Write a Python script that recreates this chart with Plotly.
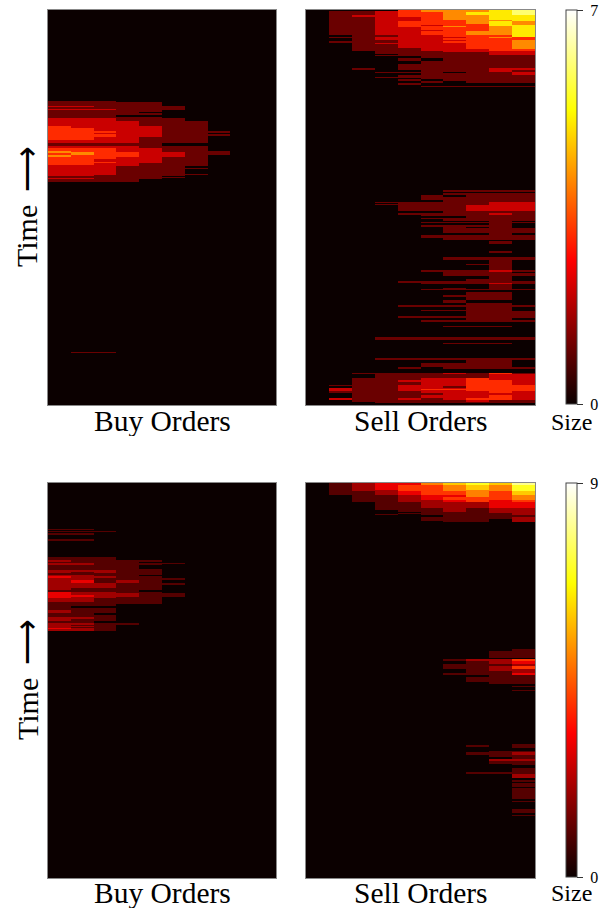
import plotly.graph_objects as go

levels = list(range(1, 11))
top_max = 7
bottom_max = 9
x_labels = ["Buy Orders", "Sell Orders"]

buy_top_edges = [0, 91, 92, 96, 97, 99, 100, 102, 103, 105, 107, 108, 111, 116, 118, 121, 123, 124, 126, 127, 130, 133, 136, 138, 141, 142, 143, 145, 147, 148, 149, 152, 153, 155, 156, 158, 159, 164, 165, 166, 167, 168, 169, 172, 342, 343, 395]
buy_top_z = [
 [0,0,0,0,0,0,0,0,0,0],
 [1,1,1,0,0,0,0,0,0,0],
 [1,1,1,1,1,0,0,0,0,0],
 [2,2,1,1,1,1,0,0,0,0],
 [1,1,1,1,1,1,0,0,0,0],
 [2,2,2,1,1,1,0,0,0,0],
 [1,1,1,1,1,0,0,0,0,0],
 [1,1,1,1,0,0,0,0,0,0],
 [1,1,1,1,1,0,0,0,0,0],
 [1,1,1,0,0,0,0,0,0,0],
 [1,1,1,1,1,0,0,0,0,0],
 [2,2,2,1,1,1,0,0,0,0],
 [2,2,2,2,1,1,1,0,0,0],
 [3,2,2,2,2,1,1,0,0,0],
 [3,3,2,2,2,1,1,0,0,0],
 [3,3,3,2,2,1,1,1,0,0],
 [3,3,2,2,2,1,1,0,0,0],
 [3,3,3,2,2,1,1,1,0,0],
 [3,3,3,2,2,1,1,0,0,0],
 [3,3,2,2,1,1,1,0,0,0],
 [2,2,2,2,1,1,1,0,0,0],
 [1,1,1,1,1,0,0,0,0,0],
 [2,2,2,2,1,1,1,0,0,0],
 [3,3,3,2,2,1,1,0,0,0],
 [4,3,3,2,2,1,1,1,0,0],
 [4,4,3,3,2,2,1,1,0,0],
 [3,4,3,3,2,2,1,1,0,0],
 [4,3,3,3,2,2,1,0,0,0],
 [3,3,3,2,2,1,1,0,0,0],
 [3,3,3,2,2,1,1,0,0,0],
 [3,3,2,2,2,1,1,0,0,0],
 [3,3,3,2,2,1,1,0,0,0],
 [3,3,2,2,1,1,1,0,0,0],
 [2,2,2,2,1,1,1,0,0,0],
 [2,2,2,1,1,1,0,0,0,0],
 [2,2,2,1,1,1,1,0,0,0],
 [2,2,2,1,1,1,0,0,0,0],
 [2,2,2,1,1,1,1,0,0,0],
 [2,2,1,1,1,1,0,0,0,0],
 [1,1,1,1,1,0,0,0,0,0],
 [1,1,1,1,1,1,0,0,0,0],
 [2,2,1,1,1,0,0,0,0,0],
 [1,1,1,1,0,0,0,0,0,0],
 [0,0,0,0,0,0,0,0,0,0],
 [0,1,1,0,0,0,0,0,0,0],
 [0,0,0,0,0,0,0,0,0,0],
]

# each row: time at which the band ends, then the size at the ten price levels
sell_top_rows = [
 (1,  [0,0,0,0,3,4,4,4,5,6]),
 (2,  [0,1,1,2,3,4,4,4,5,6]),
 (5,  [0,1,1,2,3,3,4,5,5,6]),
 (7,  [0,1,2,2,3,3,4,4,5,5]),
 (10, [0,1,1,2,2,3,4,4,5,5]),
 (11, [0,1,1,2,2,3,3,4,4,5]),
 (14, [0,1,1,2,3,3,3,4,5,4]),
 (15, [0,1,1,2,3,3,3,3,5,4]),
 (16, [0,1,1,2,3,2,3,3,5,5]),
 (17, [0,1,1,2,3,3,4,3,4,5]),
 (20, [0,1,1,2,2,3,3,3,4,5]),
 (21, [0,1,1,2,2,2,3,3,4,5]),
 (25, [0,1,1,2,2,3,3,4,4,5]),
 (27, [0,0,1,1,2,2,3,3,3,5]),
 (28, [0,1,1,2,2,2,2,3,4,3]),
 (30, [0,0,1,2,2,2,3,3,3,3]),
 (31, [0,0,1,1,2,2,2,3,3,4]),
 (33, [0,1,1,1,2,2,3,3,3,4]),
 (34, [0,0,1,2,2,2,2,3,3,4]),
 (38, [0,0,1,1,2,2,2,3,3,4]),
 (39, [0,0,1,1,1,2,2,3,3,4]),
 (41, [0,0,1,1,1,2,2,2,3,3]),
 (42, [0,0,0,1,1,1,2,2,2,2]),
 (44, [0,0,0,1,1,1,1,1,2,2]),
 (45, [0,0,0,0,1,1,1,1,2,2]),
 (46, [0,0,0,1,1,1,1,1,1,1]),
 (48, [0,0,0,0,0,1,1,1,1,1]),
 (51, [0,0,0,0,1,0,1,1,1,1]),
 (54, [0,0,0,0,0,1,1,1,1,1]),
 (58, [0,0,0,0,1,1,1,1,1,1]),
 (60, [0,0,1,0,1,1,1,1,2,2]),
 (62, [0,0,0,0,0,1,1,1,2,1]),
 (63, [0,0,0,1,1,1,0,1,1,2]),
 (65, [0,0,0,0,0,1,1,1,1,2]),
 (67, [0,0,0,0,1,1,1,1,1,1]),
 (68, [0,0,0,1,1,1,1,1,1,1]),
 (69, [0,0,0,0,0,1,1,1,1,1]),
 (71, [0,0,0,0,1,0,1,1,1,1]),
 (73, [0,0,0,0,0,1,0,1,1,1]),
 (75, [0,0,0,0,1,0,0,0,0,0]),
 (76, [0,0,0,0,0,0,0,0,0,0]),
 (77, [0,0,0,0,0,1,1,1,1,1]),
 (180,[0,0,0,0,0,0,0,0,0,0]),
 (182,[0,0,0,0,0,0,1,1,1,1]),
 (183,[0,0,0,0,0,0,0,0,0,0]),
 (185,[0,0,0,0,0,0,1,1,1,1]),
 (187,[0,0,0,0,0,1,0,1,1,1]),
 (190,[0,0,0,0,0,1,1,1,1,1]),
 (192,[0,0,0,0,0,0,1,1,1,1]),
 (193,[0,0,0,1,1,1,1,1,2,2]),
 (194,[0,0,0,0,1,1,1,1,2,2]),
 (195,[0,0,0,1,1,1,1,1,2,2]),
 (201,[0,0,0,0,1,1,1,2,2,2]),
 (203,[0,0,0,0,0,0,1,1,1,1]),
 (205,[0,0,0,0,1,1,1,1,2,1]),
 (206,[0,0,0,0,0,1,1,1,1,1]),
 (208,[0,0,0,0,0,0,0,1,1,1]),
 (209,[0,0,0,0,0,1,1,1,1,1]),
 (211,[0,0,0,0,0,0,1,1,1,1]),
 (212,[0,0,0,0,0,0,0,0,1,0]),
 (213,[0,0,0,0,0,1,1,1,1,1]),
 (215,[0,0,0,0,0,0,0,0,1,0]),
 (217,[0,0,0,0,0,1,1,1,1,0]),
 (218,[0,0,0,0,0,0,1,0,1,0]),
 (223,[0,0,0,0,0,0,1,1,1,1]),
 (225,[0,0,0,0,0,0,0,0,1,0]),
 (228,[0,0,0,0,0,1,1,1,1,1]),
 (230,[0,0,0,0,0,0,1,1,1,1]),
 (231,[0,0,0,0,0,0,0,0,0,0]),
 (234,[0,0,0,0,0,0,0,0,1,0]),
 (241,[0,0,0,0,0,0,0,0,0,0]),
 (243,[0,0,0,0,0,0,0,0,1,0]),
 (247,[0,0,0,0,0,0,0,0,0,0]),
 (250,[0,0,0,0,0,0,1,1,1,1]),
 (254,[0,0,0,0,0,0,0,0,1,0]),
 (255,[0,0,0,0,0,0,0,1,1,0]),
 (260,[0,0,0,0,0,0,0,0,1,0]),
 (262,[0,0,0,0,0,1,1,1,2,1]),
 (263,[0,0,0,0,0,0,1,1,1,0]),
 (266,[0,0,0,0,0,0,1,1,1,1]),
 (269,[0,0,0,0,0,0,0,0,1,0]),
 (271,[0,0,0,0,0,0,0,1,1,0]),
 (273,[0,0,0,0,1,1,1,1,1,1]),
 (274,[0,0,0,0,0,1,1,1,2,1]),
 (278,[0,0,0,0,0,0,0,0,1,0]),
 (279,[0,0,0,0,0,0,1,0,1,0]),
 (280,[0,0,0,0,0,1,1,1,1,1]),
 (282,[0,0,0,0,0,0,0,0,0,0]),
 (285,[0,0,0,0,0,0,0,1,1,0]),
 (287,[0,0,0,0,0,0,1,1,1,0]),
 (290,[0,0,0,0,0,0,0,1,1,0]),
 (293,[0,0,0,0,0,0,1,0,0,0]),
 (295,[0,0,0,0,0,0,0,1,1,0]),
 (297,[0,0,0,0,1,1,1,1,1,1]),
 (300,[0,0,0,0,0,0,0,1,1,0]),
 (301,[0,0,0,0,0,1,1,1,1,0]),
 (306,[0,0,0,0,0,0,0,1,1,1]),
 (308,[0,0,0,0,1,1,1,1,1,1]),
 (310,[0,0,0,0,0,0,0,1,1,0]),
 (312,[0,0,0,0,0,1,1,1,1,1]),
 (316,[0,0,0,0,0,0,0,0,0,0]),
 (317,[0,0,0,0,0,0,1,1,1,0]),
 (327,[0,0,0,0,0,0,0,0,0,0]),
 (330,[0,0,0,1,1,1,1,1,1,1]),
 (333,[0,0,0,0,0,0,0,0,0,0]),
 (334,[0,0,0,0,0,0,1,1,1,0]),
 (348,[0,0,0,0,0,0,0,0,0,0]),
 (350,[0,0,0,1,1,1,1,1,1,1]),
 (353,[0,0,0,0,0,0,0,1,1,0]),
 (355,[0,0,0,0,0,1,1,1,1,0]),
 (357,[0,0,0,0,0,1,1,1,1,0]),
 (359,[0,0,0,0,1,0,1,1,1,1]),
 (363,[0,0,0,0,0,0,0,0,0,0]),
 (364,[0,0,1,1,1,1,2,1,3,1]),
 (368,[0,0,0,1,1,1,1,1,2,2]),
 (370,[0,0,1,1,1,2,2,3,2,2]),
 (372,[0,0,1,1,2,2,2,3,3,2]),
 (375,[0,0,1,1,1,2,2,3,3,2]),
 (376,[0,1,1,1,2,2,2,3,3,3]),
 (378,[0,0,1,1,2,2,1,3,3,3]),
 (379,[0,2,1,1,2,2,2,3,3,3]),
 (380,[0,2,1,1,2,3,3,3,3,3]),
 (381,[0,2,1,1,2,2,2,3,3,3]),
 (383,[0,1,1,1,1,2,2,2,3,2]),
 (385,[0,0,1,1,1,1,2,2,2,2]),
 (388,[0,0,1,1,1,2,2,2,3,2]),
 (390,[0,2,1,1,2,1,2,3,3,2]),
 (392,[0,0,1,1,1,1,1,2,1,1]),
 (393,[0,0,0,1,1,1,1,1,1,1]),
 (395,[0,0,0,0,0,0,0,0,0,0]),
]
sell_top_edges = [0] + [row[0] for row in sell_top_rows]
sell_top_z = [row[1] for row in sell_top_rows]

buy_bottom_edges = [0, 46, 47, 48, 49, 50, 52, 56, 58, 74, 77, 79, 80, 81, 82, 83, 86, 87, 89, 90, 92, 93, 95, 97, 100, 102, 105, 107, 109, 110, 112, 114, 115, 117, 119, 121, 123, 125, 127, 130, 132, 134, 136, 138, 140, 142, 143, 144, 145, 146, 148, 395]
buy_bottom_z = [
 [0,0,0,0,0,0,0,0,0,0],
 [1,1,0,0,0,0,0,0,0,0],
 [0,0,0,0,0,0,0,0,0,0],
 [1,1,1,0,0,0,0,0,0,0],
 [0,0,0,0,0,0,0,0,0,0],
 [1,1,0,0,0,0,0,0,0,0],
 [0,0,0,0,0,0,0,0,0,0],
 [1,1,0,0,0,0,0,0,0,0],
 [0,0,0,0,0,0,0,0,0,0],
 [1,1,1,0,0,0,0,0,0,0],
 [2,1,1,1,1,0,0,0,0,0],
 [1,1,1,1,0,0,0,0,0,0],
 [2,2,1,1,1,1,0,0,0,0],
 [2,2,1,1,1,0,0,0,0,0],
 [1,1,1,1,0,0,0,0,0,0],
 [1,1,1,1,0,0,0,0,0,0],
 [1,1,1,1,1,0,0,0,0,0],
 [2,2,2,1,1,0,0,0,0,0],
 [2,1,2,1,1,0,0,0,0,0],
 [1,1,1,1,1,0,0,0,0,0],
 [2,2,1,1,0,0,0,0,0,0],
 [3,2,2,1,1,0,0,0,0,0],
 [2,2,1,1,1,1,0,0,0,0],
 [2,3,1,2,1,0,0,0,0,0],
 [2,2,2,1,1,1,0,0,0,0],
 [2,2,2,1,1,0,0,0,0,0],
 [2,1,1,1,1,0,0,0,0,0],
 [1,1,1,1,0,0,0,0,0,0],
 [3,2,2,1,1,0,0,0,0,0],
 [3,2,2,2,1,1,0,0,0,0],
 [3,3,2,2,1,1,0,0,0,0],
 [3,2,2,1,1,0,0,0,0,0],
 [2,2,1,1,1,0,0,0,0,0],
 [2,2,1,1,1,0,0,0,0,0],
 [1,1,1,1,1,0,0,0,0,0],
 [1,1,1,0,0,0,0,0,0,0],
 [1,0,0,0,0,0,0,0,0,0],
 [1,1,1,0,0,0,0,0,0,0],
 [2,1,1,0,0,0,0,0,0,0],
 [1,1,0,0,0,0,0,0,0,0],
 [1,1,1,0,0,0,0,0,0,0],
 [2,2,1,0,0,0,0,0,0,0],
 [2,1,1,0,0,0,0,0,0,0],
 [1,1,0,0,0,0,0,0,0,0],
 [2,2,1,1,0,0,0,0,0,0],
 [2,1,1,0,0,0,0,0,0,0],
 [2,2,1,0,0,0,0,0,0,0],
 [2,1,1,0,0,0,0,0,0,0],
 [3,2,1,0,0,0,0,0,0,0],
 [2,2,1,0,0,0,0,0,0,0],
 [0,0,0,0,0,0,0,0,0,0],
]

sell_bottom_edges = [0, 2, 7, 8, 12, 14, 17, 19, 25, 27, 29, 30, 31, 32, 34, 36, 38, 39, 166, 168, 175, 176, 178, 181, 183, 186, 188, 190, 192, 194, 199, 201, 203, 204, 207, 208, 261, 262, 264, 265, 268, 269, 272, 274, 276, 278, 281, 282, 285, 289, 291, 295, 297, 299, 300, 304, 305, 316, 318, 319, 326, 330, 332, 333, 395]
sell_bottom_z = [
 [0,1,2,3,3,5,6,7,6,8],
 [0,1,2,3,4,4,5,6,5,7],
 [0,1,2,2,4,4,5,5,5,7],
 [0,1,1,2,3,4,4,5,4,6],
 [0,0,1,1,2,3,3,5,4,5],
 [0,0,1,1,2,3,4,4,4,5],
 [0,0,1,1,2,2,3,4,3,4],
 [0,0,0,1,1,2,2,2,3,3],
 [0,0,0,1,1,1,2,1,2,2],
 [0,0,0,0,1,1,2,1,2,2],
 [0,0,0,0,0,1,1,1,2,2],
 [0,0,0,0,1,1,1,1,1,2],
 [0,0,0,1,0,1,1,1,1,2],
 [0,0,0,0,0,0,1,1,1,1],
 [0,0,0,0,0,1,1,1,1,2],
 [0,0,0,0,0,1,1,1,0,2],
 [0,0,0,0,0,0,1,1,0,2],
 [0,0,0,0,0,0,0,0,0,0],
 [0,0,0,0,0,0,0,0,0,1],
 [0,0,0,0,0,0,0,0,1,1],
 [0,0,0,0,0,0,0,0,0,0],
 [0,0,0,0,0,0,1,2,2,4],
 [0,0,0,0,0,0,0,1,2,3],
 [0,0,0,0,0,0,1,1,1,2],
 [0,0,0,0,0,0,1,1,2,4],
 [0,0,0,0,0,0,0,1,2,2],
 [0,0,0,0,0,0,0,1,1,2],
 [0,0,0,0,0,0,1,1,1,3],
 [0,0,0,0,0,0,0,0,1,1],
 [0,0,0,0,0,0,0,1,1,1],
 [0,0,0,0,0,0,0,0,1,1],
 [0,0,0,0,0,0,0,0,0,0],
 [0,0,0,0,0,0,0,0,0,1],
 [0,0,0,0,0,0,0,0,0,0],
 [0,0,0,0,0,0,0,0,0,1],
 [0,0,0,0,0,0,0,0,0,0],
 [0,0,0,0,0,0,0,0,0,1],
 [0,0,0,0,0,0,0,1,0,1],
 [0,0,0,0,0,0,0,0,0,1],
 [0,0,0,0,0,0,0,0,0,0],
 [0,0,0,0,0,0,0,0,1,1],
 [0,0,0,0,0,0,0,1,1,2],
 [0,0,0,0,0,0,0,0,1,1],
 [0,0,0,0,0,0,0,0,0,1],
 [0,0,0,0,0,0,0,0,2,2],
 [0,0,0,0,0,0,0,0,1,1],
 [0,0,0,0,0,0,0,0,0,1],
 [0,0,0,0,0,0,0,0,0,0],
 [0,0,0,0,0,0,0,0,0,1],
 [0,0,0,0,0,0,0,1,1,1],
 [0,0,0,0,0,0,0,0,0,2],
 [0,0,0,0,0,0,0,0,0,0],
 [0,0,0,0,0,0,0,0,0,1],
 [0,0,0,0,0,0,0,0,0,0],
 [0,0,0,0,0,0,0,0,0,1],
 [0,0,0,0,0,0,0,0,0,0],
 [0,0,0,0,0,0,0,0,0,1],
 [0,0,0,0,0,0,0,0,0,0],
 [0,0,0,0,0,0,0,0,0,1],
 [0,0,0,0,0,0,0,0,0,0],
 [0,0,0,0,0,0,0,0,0,1],
 [0,0,0,0,0,0,0,0,0,0],
 [0,0,0,0,0,0,0,0,0,1],
 [0,0,0,0,0,0,0,0,0,0],
]

level_edges = [0.5 + i for i in range(11)]
hot = [[0, "rgb(11,0,0)"], [0.365079, "rgb(255,0,0)"], [0.746032, "rgb(255,255,0)"], [1, "rgb(255,255,255)"]]
W, H = 608, 909
FONT = "Liberation Serif, Times New Roman, serif"


def px_x(v):
    return v / W


def px_y(v):
    return 1 - v / H


def colorbar(top, maxv):
    return dict(
        x=px_x(566), xanchor="left", thickness=11, thicknessmode="pixels", xpad=0, ypad=0,
        y=px_y(top), yanchor="top", len=394 / H, lenmode="fraction",
        tickvals=[0, maxv], ticktext=["\u00a00", "\u00a0" + str(maxv)], ticks="outside", ticklen=6, tickwidth=1,
        tickcolor="#333", outlinecolor="#444", outlinewidth=1,
        tickfont=dict(family=FONT, size=16, color="black"),
    )


panels = [
    (buy_top_edges, buy_top_z, 48, 276, 10, top_max, None),
    (sell_top_edges, sell_top_z, 306, 535, 10, top_max, 10),
    (buy_bottom_edges, buy_bottom_z, 48, 276, 483, bottom_max, None),
    (sell_bottom_edges, sell_bottom_z, 306, 535, 483, bottom_max, 483),
]

fig = go.Figure()
layout = dict(
    width=W, height=H, margin=dict(l=0, r=0, t=0, b=0), paper_bgcolor="white", plot_bgcolor="white",
    showlegend=False, font=dict(family=FONT, color="black"),
)
for i, (edges, z, x0, x1, top, maxv, cb_top) in enumerate(panels, start=1):
    s = "" if i == 1 else str(i)
    tr = dict(
        x=level_edges, y=edges, z=z, colorscale=hot, zmin=0, zmax=maxv, xaxis=f"x{s}", yaxis=f"y{s}",
        showscale=cb_top is not None, hoverinfo="skip",
    )
    if cb_top is not None:
        tr["colorbar"] = colorbar(cb_top, maxv)
    fig.add_trace(go.Heatmap(**tr))
    layout[f"xaxis{s}"] = dict(
        domain=[px_x(x0), px_x(x1)], range=[0.5, 10.5], showticklabels=False, ticks="", showgrid=False,
        zeroline=False, showline=True, linecolor="#888", linewidth=1, mirror=True, anchor=f"y{s}",
    )
    layout[f"yaxis{s}"] = dict(
        domain=[px_y(top + 395), px_y(top)], range=[395, 0], showticklabels=False, ticks="", showgrid=False,
        zeroline=False, showline=True, linecolor="#888", linewidth=1, mirror=True, anchor=f"x{s}",
    )

ann = []


def note(text, x, y, size, angle=0, box=None):
    item = dict(text=text, x=px_x(x), y=px_y(y), xref="paper", yref="paper", xanchor="center", yanchor="middle",
                showarrow=False, textangle=angle, borderpad=0, font=dict(family=FONT, size=size, color="black"))
    if box:
        item["height"] = box
    ann.append(item)


for base in (421, 893):
    note(x_labels[0], 162, base, 29.5, box=30)
    note(x_labels[1], 421, base, 29.5, box=30)
    note("Size", 571, base + 1 if base == 421 else base, 24, box=20)
for mid in (236, 709):
    note("Time", 27, mid, 30, -90)
    note("⟶", 27, mid - 67, 32, -90)

layout["annotations"] = ann
fig.update_layout(**layout)
fig.write_html("out.html", config={"displayModeBar": False},
               post_script="document.body.style.margin='0';document.body.style.overflow='hidden';")
